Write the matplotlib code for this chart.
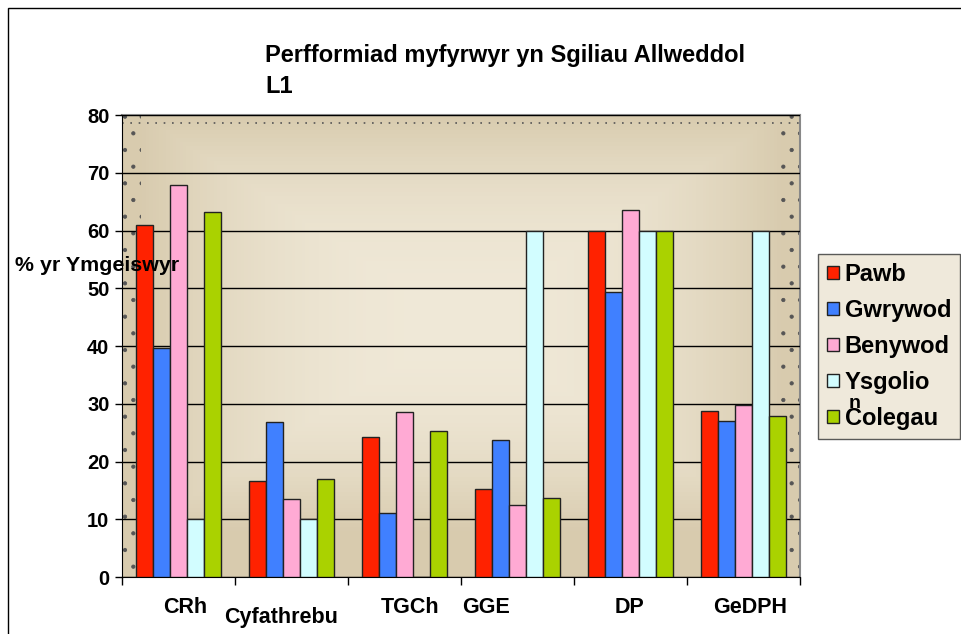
import numpy as np
import matplotlib.pyplot as plt
from matplotlib.patches import Rectangle

plt.rcParams['font.family'] = ['Liberation Sans', 'DejaVu Sans']
plt.rcParams['font.weight'] = 'bold'
plt.rcParams['hatch.linewidth'] = 0.6

# data
categories = ['CRh', 'Cyfathrebu', 'TGCh', 'GGE', 'DP', 'GeDPH']
series_names = ['Pawb', 'Gwrywod', 'Benywod', 'Ysgolion', 'Colegau']
pawb = [61.0, 16.6, 24.3, 15.2, 60.0, 28.8]
gwrywod = [39.7, 26.9, 11.1, 23.7, 49.3, 27.0]
benywod = [67.8, 13.5, 28.6, 12.5, 63.5, 29.7]
ysgolion = [10.0, 10.0, 0.0, 60.0, 60.0, 60.0]
colegau = [63.2, 16.9, 25.3, 13.6, 60.0, 27.9]
colors = ['#ff2200', '#4080ff', '#ffaad4', '#d2fdff', '#aad200']

values = [pawb, gwrywod, benywod, ysgolion, colegau]

fig = plt.figure(figsize=(9.62, 6.34), dpi=100)
ax = fig.add_axes([0.1268, 0.0899, 0.7048, 0.7287])

# beige background gradient with lighter centre
nx, ny = 200, 120
gx = np.linspace(-1, 1, nx)
gy = np.linspace(-1, 1, ny)
X, Y = np.meshgrid(gx, gy)
r = np.maximum(np.abs(X) * 1.05, np.abs(Y - 0.1) * 1.1)
t = np.clip(r, 0, 1) ** 2.2
c_in = np.array([0xf0, 0xe9, 0xd8]) / 255
c_out = np.array([0xd8, 0xcb, 0xae]) / 255
img = c_in[None, None, :] * (1 - t[..., None]) + c_out[None, None, :] * t[..., None]
ax.imshow(img, extent=[-0.5, 5.5, 0, 80], aspect='auto', zorder=0, origin='lower')

# dotted decoration strips on the sides and top
ax.add_patch(Rectangle((0, 0), 0.028, 1, transform=ax.transAxes, facecolor='none',
                       edgecolor='#555555', hatch='.', lw=0, zorder=0.5))
ax.add_patch(Rectangle((0.972, 0), 0.028, 1, transform=ax.transAxes, facecolor='none',
                       edgecolor='#555555', hatch='.', lw=0, zorder=0.5))
ax.axhline(78.6, color='#555555', lw=1.2, ls=(0, (1, 4)), zorder=0.6)

x = np.arange(len(categories))
w = 0.15
for i, (vals, name, col) in enumerate(zip(values, series_names, colors)):
    ax.bar(x + (i - 2) * w, vals, width=w, color=col, edgecolor='#222222',
           linewidth=1, zorder=3, label=name)

ax.set_xlim(-0.5, 5.5)
ax.set_ylim(0, 80)
ax.set_yticks(range(0, 81, 10))
ax.yaxis.grid(True, color='black', lw=1)
ax.set_axisbelow(False)
for gl in ax.get_ygridlines():
    gl.set_zorder(1)
ax.tick_params(axis='y', labelsize=14.5, direction='out', length=5, width=1, pad=4)
ax.set_xticks(np.arange(-0.5, 6, 1))
ax.set_xticklabels([])
ax.tick_params(axis='x', direction='out', length=6, width=1)

for s in ['top', 'right']:
    ax.spines[s].set_color('#888888')
    ax.spines[s].set_linewidth(1.5)
ax.spines['left'].set_color('black')
ax.spines['bottom'].set_color('black')

# category labels (pixel nudges as in the original layout), Cyfathrebu staggered lower
label_dx = [7, -10, 6, -31, -1, 7]
label_dy = [-30, -40, -30, -30, -30, -30]
for i, cat in enumerate(categories):
    ax.annotate(cat, xy=(i, 0), xycoords=('data', 'axes fraction'),
                xytext=(label_dx[i], label_dy[i]), textcoords='offset pixels',
                ha='center', va='center', fontsize=15.5, fontweight='bold')

fig.text(265 / 962, 1 - 71 / 634, 'Perfformiad myfyrwyr yn Sgiliau Allweddol\nL1',
         ha='left', va='center', fontsize=17, fontweight='bold', linespacing=1.45)
fig.text(15 / 962, 1 - 265 / 634, '% yr Ymgeiswyr', ha='left', va='center',
         fontsize=15.4, fontweight='bold', zorder=10)

handles, labels = ax.get_legend_handles_labels()
labels = ['Pawb', 'Gwrywod', 'Benywod', 'Ysgolio', 'Colegau']
leg = fig.legend(handles, labels, loc='upper left', bbox_to_anchor=(818 / 962, 1 - 254 / 634),
                 fontsize=17, frameon=True, fancybox=False, handlelength=0.5,
                 handleheight=0.5, handletextpad=0.25, labelspacing=0.55,
                 borderpad=0.38, borderaxespad=0)
leg.get_frame().set_facecolor('#ece4d2')
leg.get_frame().set_edgecolor('#333333')
leg.get_frame().set_linewidth(1)
for txt in leg.get_texts():
    txt.set_fontweight('bold')
# wrapped tail of "Ysgolion" overlapping the next entry
fig.text(855 / 962, 1 - 404 / 634, 'n', ha='center', va='center', fontsize=14,
         fontweight='bold', zorder=10)

# outer chart border
fig.patches.append(Rectangle((8 / 962, -0.05), 1.0, 1.05 - 8 / 634,
                             transform=fig.transFigure, fill=False,
                             edgecolor='black', lw=1))

fig.savefig('out.png', dpi=100)
